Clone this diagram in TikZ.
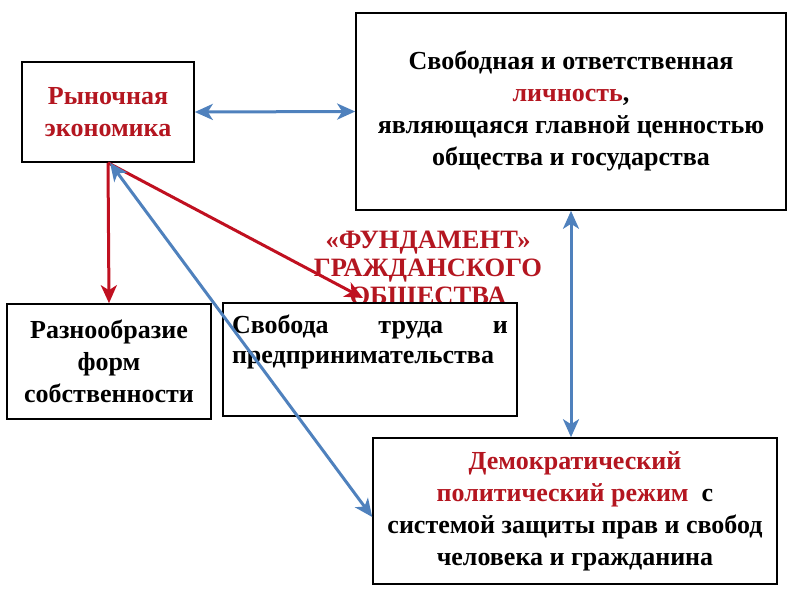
\documentclass[tikz,border=0pt]{standalone}
\usepackage{fontspec}
\setmainfont{Liberation Serif}
\usetikzlibrary{arrows.meta}
\definecolor{dred}{RGB}{192,16,32}
\definecolor{tred}{RGB}{180,22,32}
\definecolor{sblue}{RGB}{79,129,189}
\tikzset{
  box/.style={draw=black, line width=1.6pt, fill=white, rectangle, inner sep=0pt,
    font=\bfseries\fontsize{26}{32}\selectfont, align=center},
  bluearrow/.style={draw=sblue, line width=3pt, {Stealth[length=18pt,width=16pt,inset=5pt]}-{Stealth[length=18pt,width=16pt,inset=5pt]}},
  redarrow/.style={draw=dred, line width=3pt, -{Stealth[length=18pt,width=16pt,inset=5pt]}},
  titletext/.style={text=tred, font=\bfseries\fontsize{26.5}{28}\selectfont, align=center, inner sep=0pt}
}
\begin{document}
\begin{tikzpicture}[x=1pt,y=-1pt]
\useasboundingbox (0,0) rectangle (800,600);
% title behind box 4
\node[titletext] (title) at (428,271) {«ФУНДАМЕНТ»\\ГРАЖДАНСКОГО\\ОБЩЕСТВА};
\node[box, minimum width=172pt, minimum height=100pt, text=tred] (b1) at (108,112) {Рыночная\\экономика};
\node[box, minimum width=430pt, minimum height=197pt] (b2) at (571,111.5)
  {\raisebox{-3pt}{\begin{tabular}{@{}c@{}}Свободная и ответственная\\\textcolor{tred}{личность},\\являющаяся главной ценностью\\общества и государства\end{tabular}}};
\node[box, minimum width=204pt, minimum height=115pt] (b3) at (109,361.5)
  {Разнообразие\\форм\\собственности};
\node[box, minimum width=294pt, minimum height=113pt, align=left] (b4) at (370,359.5)
  {\parbox[c][100pt][t]{276pt}{\baselineskip=30pt\vspace*{5pt}\hbox to 276pt{Свобода\hfill труда\hfill и}\par\noindent предпринимательства}};
\node[box, minimum width=404pt, minimum height=146pt] (b5) at (575,511)
  {\textcolor{tred}{Демократический}\\\textcolor{tred}{политический режим}\ \ с\\системой защиты прав и свобод\\человека и гражданина};
\coordinate (tip) at (363,298);
% connectors
\draw[bluearrow] (b1.east) -- (b2.west);
\draw[bluearrow] (b2.south) -- (b2.south |- b5.north);
\draw[redarrow] (b1.south) -- (b3.north);
\draw[redarrow] (b1.south) -- (tip);
\draw[bluearrow] ([xshift=2pt]b1.south) -- ([yshift=-6pt]b5.west);
\end{tikzpicture}
\end{document}
